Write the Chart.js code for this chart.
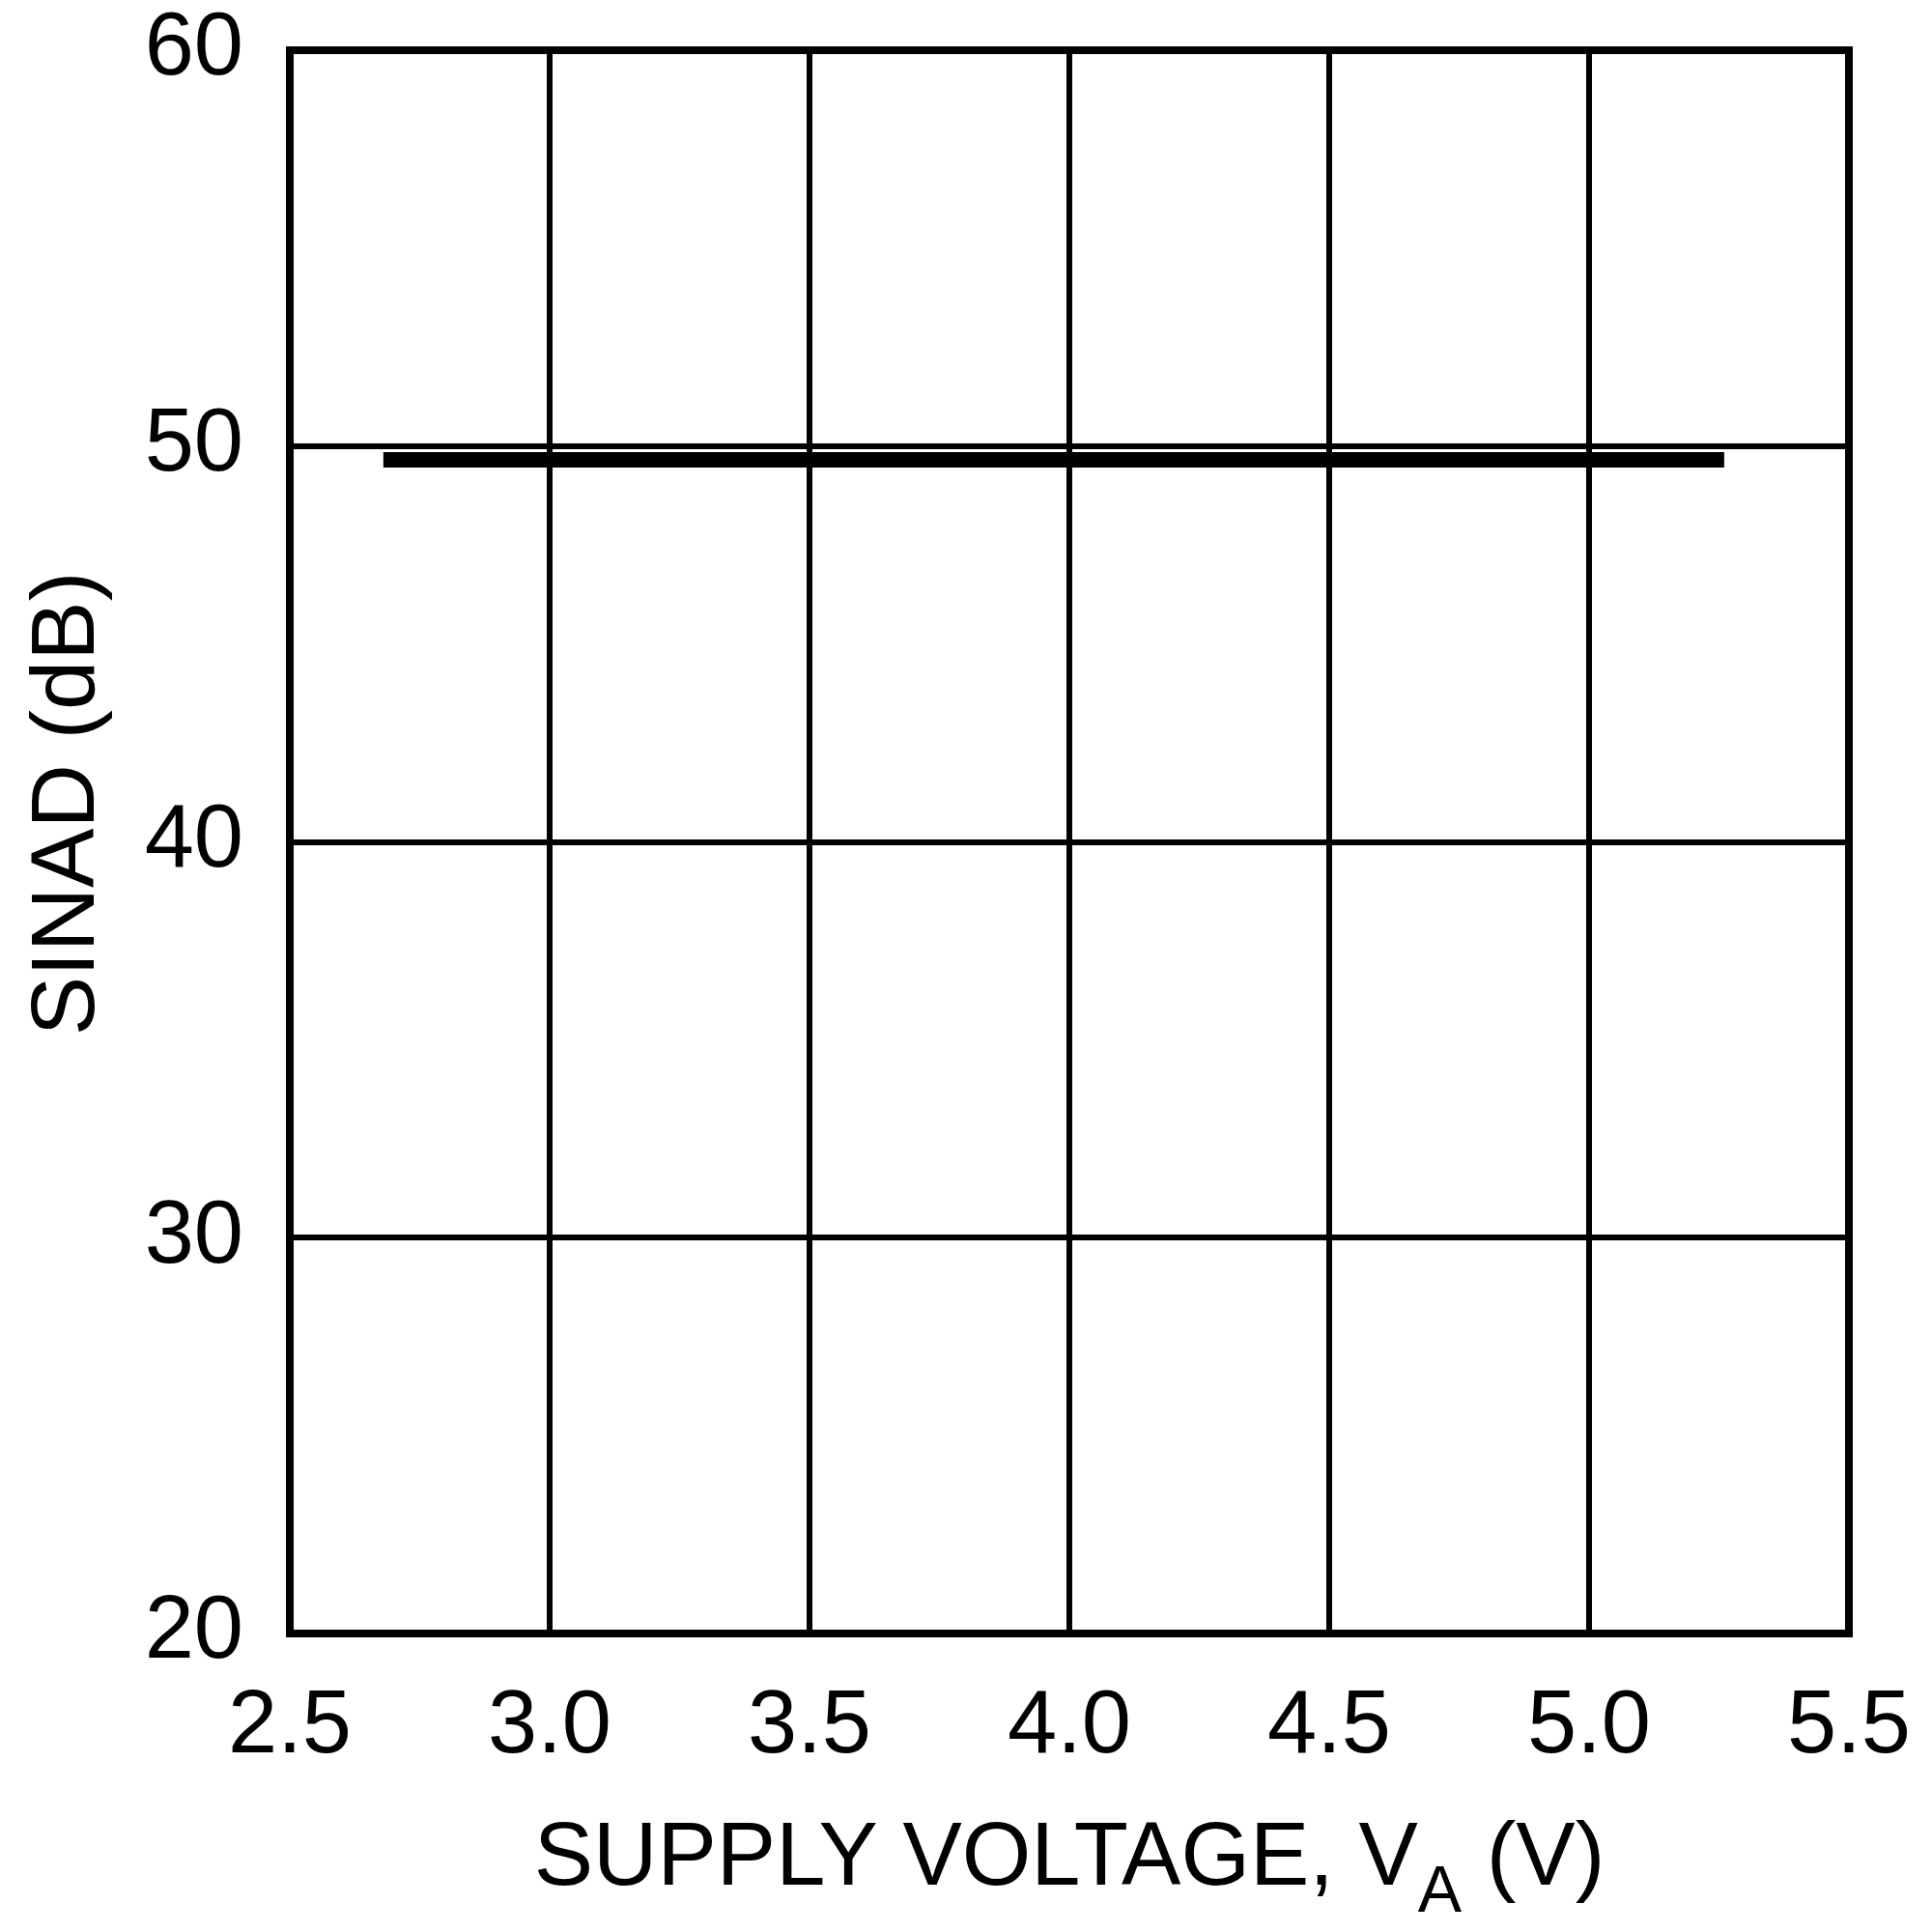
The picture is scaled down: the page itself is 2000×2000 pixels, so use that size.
<!DOCTYPE html>
<html>
<head>
<meta charset="utf-8">
<title>SINAD vs Supply Voltage</title>
<script src="https://cdn.jsdelivr.net/npm/chart.js@4.4.1/dist/chart.umd.min.js"></script>
<style>
  body { margin: 0; background: #fff; }
  #chart { display: block; }
</style>
</head>
<body>
<canvas id="chart" width="2000" height="2000"></canvas>
<script>
// data
const supplyVoltage = [2.68, 3.0, 3.5, 4.0, 4.5, 5.0, 5.26];
const sinad = [49.65, 49.65, 49.65, 49.65, 49.65, 49.65, 49.65];
const xTicks = [2.5, 3.0, 3.5, 4.0, 4.5, 5.0, 5.5];
const yTicks = [20, 30, 40, 50, 60];
const yTitle = 'SINAD (dB)';
const xTitleMain = 'SUPPLY VOLTAGE, V';
const xTitleSub = 'A';
const xTitleEnd = ' (V)';

const fontFamily = '"Liberation Sans", Arial, Helvetica, sans-serif';

// heavier frame around the plot area
const plotFrame = {
  id: 'plotFrame',
  afterDatasetsDraw(chart) {
    const ctx = chart.ctx;
    const a = chart.chartArea;
    ctx.save();
    ctx.strokeStyle = '#000';
    ctx.lineWidth = 8;
    ctx.strokeRect(a.left, a.top, a.right - a.left, a.bottom - a.top);
    ctx.restore();
  }
};

// axis titles drawn by hand because of the subscript
const axisTitles = {
  id: 'axisTitles',
  afterDraw(chart) {
    const ctx = chart.ctx;
    const area = chart.chartArea;
    ctx.save();
    ctx.fillStyle = '#000';
    ctx.font = '92px ' + fontFamily;
    ctx.textBaseline = 'alphabetic';

    // y title, rotated
    ctx.save();
    ctx.translate(97, 832);
    ctx.rotate(-Math.PI / 2);
    ctx.textAlign = 'center';
    ctx.fillText(yTitle, 0, 0);
    ctx.restore();

    // x title with subscript
    const baseY = 1951;
    ctx.textAlign = 'left';
    ctx.font = '92px ' + fontFamily;
    const w1 = ctx.measureText(xTitleMain).width;
    const w3 = ctx.measureText(xTitleEnd).width;
    ctx.font = '68px ' + fontFamily;
    const w2 = ctx.measureText(xTitleSub).width;
    const total = w1 + w2 + w3;
    let x = (area.left + area.right) / 2 - total / 2;
    ctx.font = '92px ' + fontFamily;
    ctx.fillText(xTitleMain, x, baseY);
    x += w1;
    ctx.font = '68px ' + fontFamily;
    ctx.fillText(xTitleSub, x, baseY + 28);
    x += w2;
    ctx.font = '92px ' + fontFamily;
    ctx.fillText(xTitleEnd, x, baseY);
    ctx.restore();
  }
};

const ctx = document.getElementById('chart').getContext('2d');
const myChart = new Chart(ctx, {
  type: 'line',
  data: {
    datasets: [{
      label: 'SINAD',
      data: supplyVoltage.map((v, i) => ({ x: v, y: sinad[i] })),
      borderColor: '#000',
      borderWidth: 16,
      borderCapStyle: 'butt',
      pointRadius: 0,
      fill: false,
      tension: 0
    }]
  },
  options: {
    responsive: false,
    animation: false,
    layout: { padding: { top: 52, right: 86, left: 0, bottom: 0 } },
    plugins: {
      legend: { display: false },
      tooltip: { enabled: false }
    },
    scales: {
      x: {
        type: 'linear',
        min: 2.5,
        max: 5.5,
        afterBuildTicks: (scale) => { scale.ticks = xTicks.map(v => ({ value: v })); },
        afterFit: (scale) => {
          scale.height = 309;
          scale.paddingLeft = 0;
          scale.paddingRight = 0;
        },
        grid: { color: '#000', lineWidth: 6, drawTicks: false },
        border: { color: '#000', width: 8 },
        ticks: {
          color: '#000',
          padding: 52,
          maxRotation: 0,
          autoSkip: false,
          font: { family: fontFamily, size: 92, lineHeight: 1 },
          callback: (value) => Number(value).toFixed(1)
        }
      },
      y: {
        type: 'linear',
        min: 20,
        max: 60,
        afterBuildTicks: (scale) => { scale.ticks = yTicks.map(v => ({ value: v })); },
        afterFit: (scale) => {
          scale.width = 300;
          scale.paddingTop = 0;
          scale.paddingBottom = 0;
        },
        grid: { color: '#000', lineWidth: 6, drawTicks: false },
        border: { color: '#000', width: 8 },
        ticks: {
          color: '#000',
          padding: 48,
          autoSkip: false,
          font: { family: fontFamily, size: 92, lineHeight: 1 }
        }
      }
    }
  },
  plugins: [plotFrame, axisTitles]
});
</script>
</body>
</html>
